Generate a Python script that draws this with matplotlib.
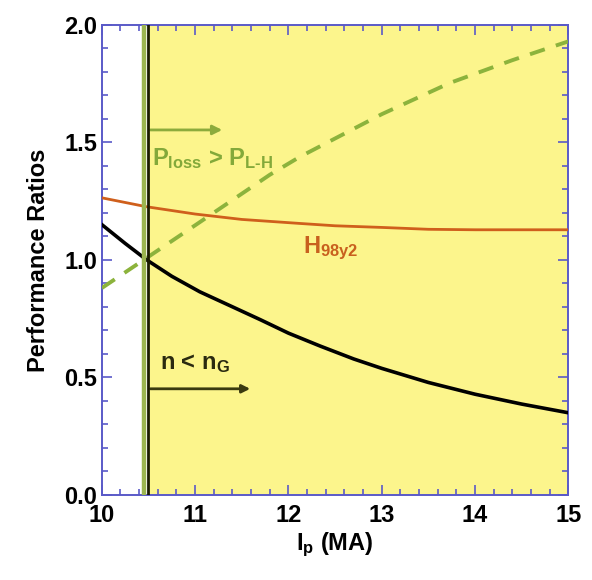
import numpy as np
import matplotlib.pyplot as plt
from matplotlib.ticker import MultipleLocator

plt.rcParams['font.family'] = ['Liberation Sans', 'DejaVu Sans']
plt.rcParams['font.weight'] = 'bold'
plt.rcParams['axes.labelweight'] = 'bold'
plt.rcParams['mathtext.fontset'] = 'custom'
plt.rcParams['mathtext.rm'] = 'Liberation Sans:bold'
plt.rcParams['mathtext.bf'] = 'Liberation Sans:bold'
plt.rcParams['mathtext.it'] = 'Liberation Sans:bold'
plt.rcParams['mathtext.default'] = 'bf'

# values
ip_black = [10.0, 10.25, 10.48, 10.75, 11.05, 11.4, 11.70, 12.0, 12.34, 12.7, 13.0, 13.5, 14.0, 14.5, 15.0]
ratio_black = [1.15, 1.07, 1.00, 0.93, 0.864, 0.80, 0.745, 0.688, 0.633, 0.578, 0.538, 0.478, 0.428, 0.386, 0.349]

ip_h98 = [10.0, 10.48, 11.0, 11.5, 12.12, 12.5, 13.0, 13.5, 14.0, 15.0]
ratio_h98 = [1.264, 1.226, 1.195, 1.172, 1.155, 1.145, 1.138, 1.13, 1.128, 1.128]

ip_ploss = [10.0, 10.45, 11.0, 11.8, 12.12, 13.0, 13.73, 14.4, 15.0]
ratio_ploss = [0.88, 1.00, 1.147, 1.362, 1.438, 1.62, 1.753, 1.85, 1.93]

ip_green_line = 10.452
ip_black_line = 10.49

fig, ax = plt.subplots(figsize=(5.92, 5.80), dpi=100)
fig.subplots_adjust(left=0.172, right=0.96, top=0.957, bottom=0.147)

spine_col = '#5a5ac8'
ax.axvspan(ip_black_line, 15, color='#fcf58c', zorder=0, lw=0)

ax.plot(ip_black, ratio_black, color='black', lw=2.6, zorder=3)
ax.plot(ip_h98, ratio_h98, color='#cf5f1c', lw=2.0, zorder=3)
ax.plot(ip_ploss, ratio_ploss, color='#8cb33c', lw=2.8, ls=(0, (4, 3)), zorder=3)

ax.axvline(ip_green_line, color='#9cb550', lw=3.2, zorder=4)
ax.axvline(ip_black_line, color='#1a1a00', lw=2, zorder=4)

ax.annotate('', xy=(11.32, 1.553), xytext=(ip_black_line, 1.553),
            arrowprops=dict(arrowstyle='-|>', color='#8cab3c', lw=2, mutation_scale=14))
ax.text(10.54, 1.43, r'P$_{loss}$ > P$_{L\text{-}H}$', color='#83a93a',
        fontsize=17, va='center', ha='left')

ax.annotate('', xy=(11.62, 0.451), xytext=(ip_black_line, 0.451),
            arrowprops=dict(arrowstyle='-|>', color='#3a3a10', lw=2, mutation_scale=12))
ax.text(10.62, 0.56, r'n < n$_{G}$', color='#2a2a10', fontsize=17, va='center', ha='left')

ax.text(12.16, 1.05, r'H$_{98y2}$', color='#c8601e', fontsize=17, va='center', ha='left')

ax.set_xlim(10, 15)
ax.set_ylim(0, 2.0)
ax.xaxis.set_major_locator(MultipleLocator(1))
ax.xaxis.set_minor_locator(MultipleLocator(0.2))
ax.yaxis.set_major_locator(MultipleLocator(0.5))
ax.yaxis.set_minor_locator(MultipleLocator(0.1))
ax.yaxis.set_major_formatter(plt.FormatStrFormatter('%.1f'))
ax.tick_params(which='both', direction='in', top=True, right=True, color=spine_col,
               labelsize=17, width=1.2)
ax.tick_params(which='major', length=7)
ax.tick_params(which='minor', length=4)
ax.tick_params(axis='x', pad=7)
for s in ax.spines.values():
    s.set_color(spine_col)
    s.set_linewidth(1.4)

ax.set_ylabel('Performance Ratios', fontsize=17, labelpad=10)
ax.set_xlabel(r'I$_{p}$ (MA)', fontsize=17, labelpad=2)

plt.savefig('out.png', dpi=100)
